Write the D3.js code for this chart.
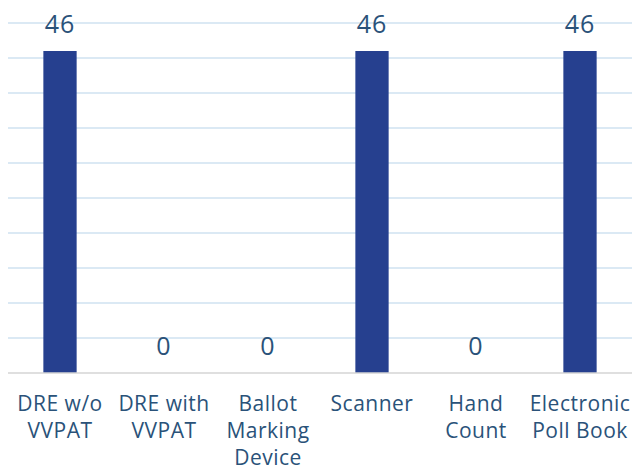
<!DOCTYPE html>
<html>
<head>
<meta charset="utf-8">
<script src="https://cdn.jsdelivr.net/npm/d3@7"></script>
<style>
  body { margin: 0; background: #fff; }
  svg text { font-family: "Open Sans", "Liberation Sans", sans-serif; }
</style>
</head>
<body>
<svg id="chart" width="632" height="465"></svg>
<script>
// data
var categories = [
  ['DRE w/o', 'VVPAT'],
  ['DRE with', 'VVPAT'],
  ['Ballot', 'Marking', 'Device'],
  ['Scanner'],
  ['Hand', 'Count'],
  ['Electronic', 'Poll Book']
];
var values = [46, 0, 0, 46, 0, 46];
var yTicks = [0, 5, 10, 15, 20, 25, 30, 35, 40, 45, 50];

var margin = {top: 23, right: 0, bottom: 92, left: 8};
var width = 632 - margin.left - margin.right;
var height = 465 - margin.top - margin.bottom;

var svg = d3.select('#chart');
var g = svg.append('g')
  .attr('transform', 'translate(' + margin.left + ',' + margin.top + ')');

var names = categories.map(function(c) { return c.join(' '); });

var xScale = d3.scaleBand()
  .domain(names)
  .range([0, width])
  .paddingInner(0.68)
  .paddingOuter(0.34);

var yScale = d3.scaleLinear()
  .domain([0, 50])
  .range([height, 0]);

// gridlines
g.selectAll('.grid')
  .data(yTicks.slice(1))
  .enter()
  .append('line')
  .attr('x1', 0)
  .attr('x2', width)
  .attr('y1', function(d) { return yScale(d); })
  .attr('y2', function(d) { return yScale(d); })
  .style('stroke', '#cfe2f1')
  .style('stroke-width', 1.3);

// bars
g.selectAll('.bar')
  .data(values)
  .enter()
  .append('rect')
  .attr('x', function(d, i) { return xScale(names[i]); })
  .attr('y', function(d) { return yScale(d); })
  .attr('width', xScale.bandwidth())
  .attr('height', function(d) { return height - yScale(d); })
  .style('fill', '#26408f');

// baseline
g.append('line')
  .attr('x1', 0)
  .attr('x2', width)
  .attr('y1', height)
  .attr('y2', height)
  .style('stroke', '#d4d4d4')
  .style('stroke-width', 1.5);

// value labels
g.selectAll('.val')
  .data(values)
  .enter()
  .append('text')
  .attr('x', function(d, i) { return xScale(names[i]) + xScale.bandwidth() / 2; })
  .attr('y', function(d) { return yScale(d) - 18; })
  .attr('text-anchor', 'middle')
  .attr('font-size', '25px')
  .attr('letter-spacing', '1px')
  .attr('fill', '#2a5279')
  .text(function(d) { return d; });

// category labels
var cat = g.selectAll('.cat')
  .data(categories)
  .enter()
  .append('text')
  .attr('text-anchor', 'middle')
  .attr('font-size', '21px')
  .attr('letter-spacing', '0.5px')
  .attr('fill', '#2a5279')
  .attr('transform', function(d, i) {
    return 'translate(' + (xScale(names[i]) + xScale.bandwidth() / 2) + ',' + (height + 38) + ')';
  });

cat.selectAll('tspan')
  .data(function(d) { return d; })
  .enter()
  .append('tspan')
  .attr('x', 0)
  .attr('y', function(d, i) { return i * 27; })
  .text(function(d) { return d; });
</script>
</body>
</html>
